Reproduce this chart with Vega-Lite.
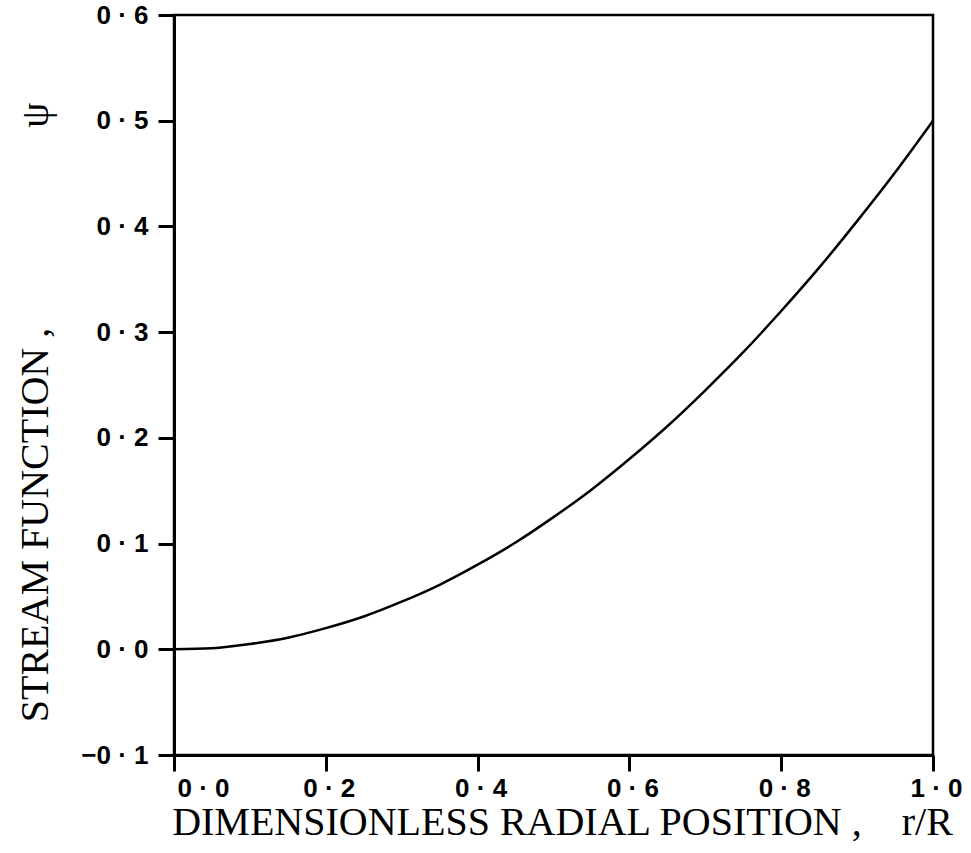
{
  "$schema": "https://vega.github.io/schema/vega-lite/v6.json",
  "autosize": "none",
  "width": 759,
  "height": 740,
  "padding": {"left": 174, "top": 15, "right": 38, "bottom": 98},
  "background": "white",
  "config": {
    "view": {"stroke": "black", "strokeWidth": 2.5}
  },
  "data": {
    "values": [
      {"r": 0.0, "psi": 0.0},
      {"r": 0.05, "psi": 0.001},
      {"r": 0.1, "psi": 0.005},
      {"r": 0.15, "psi": 0.011},
      {"r": 0.2, "psi": 0.02},
      {"r": 0.25, "psi": 0.031},
      {"r": 0.3, "psi": 0.045},
      {"r": 0.35, "psi": 0.061},
      {"r": 0.4, "psi": 0.08},
      {"r": 0.45, "psi": 0.101},
      {"r": 0.5, "psi": 0.125},
      {"r": 0.55, "psi": 0.151},
      {"r": 0.6, "psi": 0.18},
      {"r": 0.65, "psi": 0.211},
      {"r": 0.7, "psi": 0.245},
      {"r": 0.75, "psi": 0.281},
      {"r": 0.8, "psi": 0.32},
      {"r": 0.85, "psi": 0.361},
      {"r": 0.9, "psi": 0.405},
      {"r": 0.95, "psi": 0.451},
      {"r": 1.0, "psi": 0.5}
    ]
  },
  "mark": {"type": "line", "color": "black", "strokeWidth": 2.5, "interpolate": "monotone"},
  "encoding": {
    "x": {
      "field": "r",
      "type": "quantitative",
      "scale": {"domain": [0, 1], "nice": false, "zero": false},
      "axis": {
        "tickCount": 5,
        "gridOpacity": 0,
        "domainColor": "black",
        "domainWidth": 3,
        "ticks": true,
        "tickColor": "#000000",
        "tickOpacity": 1,
        "tickWidth": 3,
        "tickSize": 16,
        "labelFont": "Liberation Sans",
        "labelFontWeight": "bold",
        "labelFontSize": 26,
        "labelColor": "black",
        "labelExpr": "replace(format(datum.value, '.1f'), '.', ' · ')",
        "labelAlign": {"expr": "datum.value == 0 ? 'left' : 'center'"},
        "labelOffset": 3,
        "labelPadding": 4,
        "labelFlush": false,
        "title": "DIMENSIONLESS RADIAL POSITION ,\u2003r/R",
        "titleFont": "Liberation Serif",
        "titleFontWeight": "normal",
        "titleFontSize": 40,
        "titleColor": "black",
        "titleX": 388,
        "titleAlign": "center",
        "titlePadding": 1
      }
    },
    "y": {
      "field": "psi",
      "type": "quantitative",
      "scale": {"domain": [-0.1, 0.6], "nice": false, "zero": false},
      "axis": {
        "tickCount": 7,
        "gridOpacity": 0,
        "domainColor": "black",
        "domainWidth": 3,
        "ticks": true,
        "tickColor": "#000000",
        "tickOpacity": 1,
        "tickWidth": 3,
        "tickSize": 16,
        "labelFont": "Liberation Sans",
        "labelFontWeight": "bold",
        "labelFontSize": 26,
        "labelColor": "black",
        "labelExpr": "replace(format(datum.value, '.1f'), '.', ' · ')",
        "labelPadding": 10,
        "title": "STREAM FUNCTION ,\u2003\u2003\u2003\u2003\u2003ψ",
        "titleFont": "Liberation Serif",
        "titleFontWeight": "normal",
        "titleFontSize": 40,
        "titleColor": "black",
        "titleX": -139,
        "titleY": 397,
        "titleAlign": "center",
        "titleBaseline": "middle",
        "titleAngle": -90
      }
    }
  }
}
